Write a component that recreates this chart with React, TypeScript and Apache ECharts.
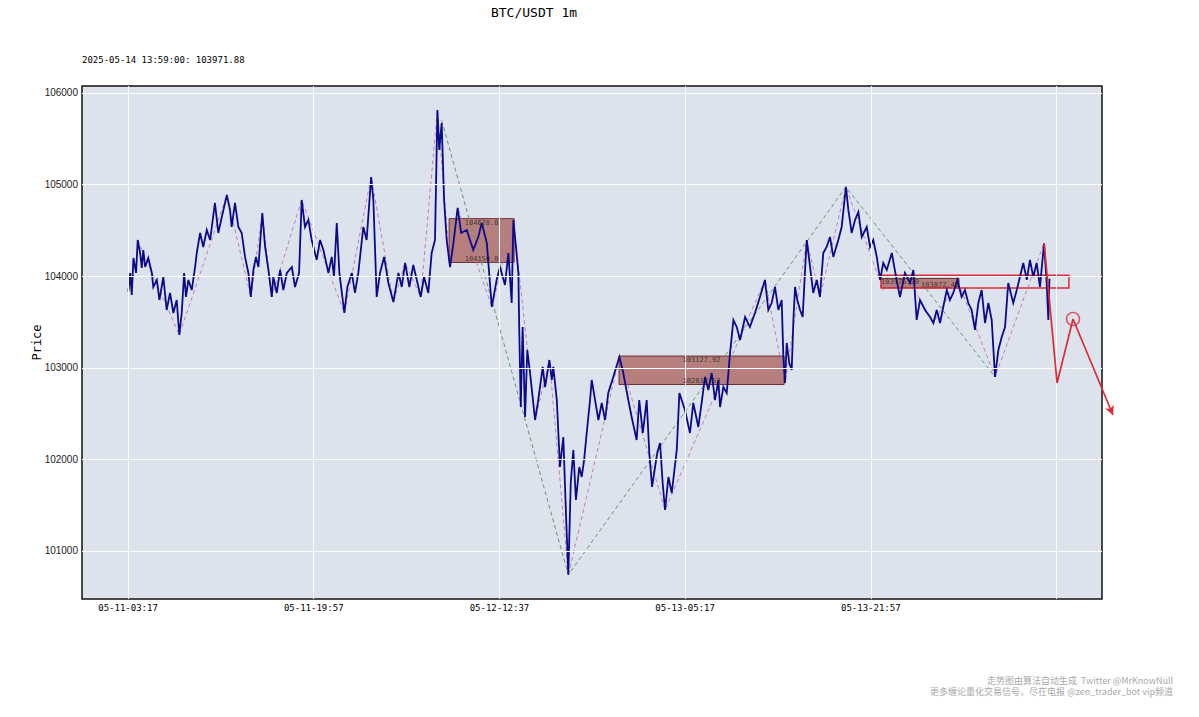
import React, { useEffect, useRef } from "react";
import * as echarts from "echarts";

// ---------- data ----------
const chartTitle = "BTC/USDT 1m";
const lastTime = "2025-05-14 13:59:00";
const lastPrice = 103971.88;

// x = bar index (1-minute bars from 2025-05-11 03:17)
const xTickValues = [0, 1000, 2000, 3000, 4000];
const xTickLabels = ["05-11-03:17", "05-11-19:57", "05-12-12:37", "05-13-05:17", "05-13-21:57"];
const xGridValues = [0, 1000, 2000, 3000, 4000, 5000];
const yTickValues = [101000, 102000, 103000, 104000, 105000, 106000];

const price: [number, number][] = [
  [2, 103831], [11, 104035], [20, 103795], [29, 104199], [43, 104035], [52, 104395], [65, 104253], [74, 104090],
  [82, 104286], [92, 104100], [109, 104199], [128, 104035], [136, 103882], [155, 103959], [169, 103740], [190, 103991],
  [208, 103631], [226, 103817], [244, 103598], [262, 103740], [276, 103358], [289, 103598], [302, 104035], [312, 103773],
  [325, 103959], [343, 103849], [361, 104100], [370, 104253], [388, 104472], [405, 104319], [424, 104504], [442, 104395],
  [468, 104799], [486, 104472], [505, 104646], [532, 104887], [549, 104723], [558, 104537], [576, 104799], [594, 104537],
  [612, 104472], [630, 104210], [648, 104035], [661, 103773], [675, 104068], [689, 104210], [702, 104100], [723, 104690],
  [738, 104319], [756, 104068], [774, 103773], [782, 103991], [801, 103817], [819, 104068], [836, 103849], [855, 104035],
  [882, 104100], [899, 103882], [921, 104035], [935, 104832], [953, 104537], [971, 104614], [989, 104395], [1016, 104177],
  [1034, 104395], [1052, 104286], [1079, 104035], [1097, 104210], [1109, 103991], [1124, 104581], [1138, 104035], [1165, 103598],
  [1181, 103882], [1205, 104035], [1222, 103817], [1240, 104035], [1267, 104537], [1285, 104395], [1309, 105083], [1321, 104832],
  [1339, 103773], [1357, 104035], [1379, 104210], [1402, 103926], [1429, 103718], [1456, 104035], [1474, 103882], [1492, 104144],
  [1515, 103882], [1536, 104122], [1555, 103959], [1576, 103773], [1594, 103991], [1617, 103817], [1635, 104253], [1653, 104395],
  [1666, 105814], [1676, 105378], [1689, 105672], [1702, 104832], [1716, 104395], [1734, 104100], [1752, 104362], [1775, 104745],
  [1794, 104472], [1824, 104504], [1859, 104286], [1886, 104428], [1905, 104581], [1932, 104362], [1959, 103664], [1985, 103959],
  [2003, 104100], [2030, 103904], [2048, 104253], [2066, 103707], [2075, 104614], [2089, 104319], [2102, 104035], [2107, 103380],
  [2115, 102572], [2125, 103445], [2138, 102463], [2150, 103194], [2165, 102943], [2192, 102430], [2209, 102648], [2233, 103009],
  [2246, 102790], [2269, 103085], [2282, 102867], [2290, 103009], [2309, 102648], [2326, 101917], [2344, 102244], [2359, 101371],
  [2371, 100740], [2384, 101742], [2398, 102103], [2412, 101557], [2430, 101917], [2443, 101808], [2456, 101993], [2470, 102288],
  [2488, 102648], [2497, 102867], [2515, 102648], [2533, 102430], [2551, 102616], [2569, 102430], [2586, 102725], [2613, 102900],
  [2646, 103118], [2667, 102943], [2694, 102648], [2712, 102463], [2739, 102212], [2753, 102648], [2772, 102288], [2793, 102648],
  [2807, 102070], [2822, 101699], [2838, 101917], [2850, 102070], [2865, 102179], [2879, 101742], [2892, 101448], [2910, 101808],
  [2928, 101633], [2955, 102103], [2969, 102725], [2999, 102539], [3026, 102288], [3044, 102616], [3071, 102354], [3089, 102616],
  [3107, 102900], [3125, 102758], [3143, 102943], [3161, 102648], [3179, 102867], [3188, 102572], [3206, 102790], [3224, 102725],
  [3242, 103162], [3260, 103522], [3278, 103445], [3296, 103303], [3323, 103555], [3349, 103445], [3376, 103598], [3403, 103773],
  [3430, 103959], [3448, 103631], [3466, 103707], [3484, 103882], [3502, 103631], [3520, 103740], [3529, 103118], [3538, 102834],
  [3547, 103271], [3561, 103052], [3574, 102976], [3583, 103522], [3592, 103882], [3604, 103740], [3619, 103631], [3633, 103555],
  [3646, 104068], [3655, 104395], [3673, 104100], [3690, 103817], [3709, 103959], [3726, 103773], [3744, 104253], [3762, 104319],
  [3780, 104428], [3798, 104210], [3825, 104395], [3843, 104537], [3866, 104974], [3879, 104723], [3897, 104472], [3915, 104614],
  [3933, 104701], [3951, 104428], [3978, 104537], [3996, 104319], [4013, 104395], [4032, 104210], [4050, 103959], [4067, 104144],
  [4086, 104068], [4113, 104253], [4139, 103959], [4157, 103773], [4184, 104035], [4211, 103926], [4229, 104068], [4247, 103522],
  [4265, 103740], [4292, 103631], [4319, 103555], [4337, 103489], [4355, 103631], [4373, 103489], [4390, 103664], [4409, 103849],
  [4426, 103740], [4444, 103817], [4466, 103959], [4489, 103773], [4507, 103849], [4525, 103707], [4543, 103631], [4561, 103413],
  [4579, 103707], [4597, 103849], [4615, 103489], [4633, 103707], [4651, 103522], [4669, 102900], [4687, 103194], [4705, 103336],
  [4723, 103445], [4740, 103926], [4767, 103707], [4786, 103849], [4803, 103991], [4821, 104144], [4840, 103959], [4857, 104177],
  [4875, 103991], [4893, 104144], [4911, 103882], [4933, 104362], [4947, 103926], [4956, 103522], [4962, 103971.88],
];

// stroke (bi) pivots
const biPoints: [number, number][] = [
  [52, 104395], [276, 103358], [532, 104887], [661, 103773], [723, 104690], [774, 103773], [935, 104832], [1165, 103598],
  [1309, 105083], [1429, 103718], [1492, 104144], [1576, 103773], [1666, 105814], [1734, 104100], [1775, 104745], [1959, 103664],
  [2075, 104614], [2192, 102430], [2269, 103085], [2371, 100740], [2646, 103118], [2892, 101448], [3430, 103959], [3538, 102834],
  [3655, 104395], [3726, 103773], [3866, 104974], [4067, 103849], [4184, 104035], [4337, 103489], [4466, 103959], [4669, 102900],
  [4933, 104362],
];

// segment pivots
const segPoints: [number, number][] = [
  [1689, 105700], [2371, 100740], [3866, 104974], [4669, 102900],
];

// pivot zones: start idx, end idx, low, high
const zoneStart = [1729, 2644, 4055];
const zoneEnd = [2079, 3533, 4475];
const zoneLow = [104150.0, 102817.53, 103872.4];
const zoneHigh = [104628.0, 103127.92, 103975.2];

// projected path
const projection: [number, number][] = [[4933, 104362], [5003, 102834], [5089, 103533]];
const projectionTarget: [number, number] = [5304, 102485];
const watchStart = 4055;
const watchEnd = 5067;
const watchLow = 103870;
const watchHigh = 104010;

const watermark1 = "走势图由算法自动生成  Twitter @MrKnowNull";
const watermark2 = "更多缠论量化交易信号，尽在电报 @zen_trader_bot vip频道";

// axis ranges
const X_MIN = -248;
const X_MAX = 5245;
const Y_MIN = 100476;
const Y_MAX = 106076;

const RED = "#dd2a35";
const MONO = "'DejaVu Sans Mono', monospace";

export default function App() {
  const ref = useRef<HTMLDivElement>(null);

  useEffect(() => {
    if (!ref.current) return;
    const chart = echarts.init(ref.current, undefined, { renderer: "svg" });

    const zoneAreas = zoneStart.map((s, i) => [
      { coord: [s, zoneLow[i]] },
      { coord: [zoneEnd[i], zoneHigh[i]] },
    ]);
    const fmt = (v: number) => v.toFixed(v % 1 === 0 ? 1 : 2);
    const zoneLabels: any[] = [];
    zoneStart.forEach((s, i) => {
      const mid = (s + zoneEnd[i]) / 2;
      const narrow = i === 2;
      zoneLabels.push({ value: [mid, zoneHigh[i]], name: fmt(zoneHigh[i]), label: { offset: [narrow ? -20 : 0, 4] } });
      zoneLabels.push({ value: [mid, zoneLow[i]], name: fmt(zoneLow[i]), label: { offset: [narrow ? 20 : 0, -3] } });
    });

    const turnPoint = projection[projection.length - 1];

    const buildOption = (legPixels: any[]) => ({
      animation: false,
      backgroundColor: "#ffffff",
      grid: {
        left: 82,
        top: 86,
        width: 1020,
        height: 513,
        show: true,
        backgroundColor: "#dde3ed",
        borderColor: "#111111",
        borderWidth: 1.5,
      },
      xAxis: {
        type: "value",
        min: X_MIN,
        max: X_MAX,
        axisLine: { show: false },
        axisTick: { show: false },
        splitLine: { show: false },
        axisLabel: {
          customValues: xTickValues,
          formatter: (v: number) => {
            const i = xTickValues.indexOf(v);
            return i >= 0 ? xTickLabels[i] : "";
          },
          fontFamily: MONO,
          fontSize: 9,
          color: "#000",
          margin: 4,
        },
      },
      yAxis: {
        type: "value",
        min: Y_MIN,
        max: Y_MAX,
        name: "Price",
        nameLocation: "middle",
        nameGap: 39,
        nameMoveOverlap: false,
        nameRotate: 90,
        nameTextStyle: { fontFamily: MONO, fontSize: 12, color: "#000" },
        axisLine: { show: false },
        axisTick: { show: false },
        splitLine: { show: false },
        axisLabel: {
          customValues: yTickValues,
          formatter: (v: number) => String(v),
          fontFamily: "'Liberation Sans', Arial, sans-serif",
          fontSize: 10,
          color: "#222",
          margin: 4,
        },
      },
      graphic: [
        {
          type: "text",
          x: 534,
          y: 12,
          style: { text: chartTitle, font: `13px ${MONO}`, fill: "#000", align: "center", verticalAlign: "middle" },
        },
        {
          type: "text",
          x: 82,
          y: 60,
          style: { text: `${lastTime}: ${lastPrice}`, font: `9px ${MONO}`, fill: "#000", align: "left", verticalAlign: "middle" },
        },
        {
          type: "text",
          x: 1173,
          y: 680,
          style: { text: watermark1, font: "9px 'Noto Sans CJK SC', sans-serif", fill: "#a8a8a8", align: "right", verticalAlign: "middle" },
        },
        {
          type: "text",
          x: 1173,
          y: 691,
          style: { text: watermark2, font: "9px 'Noto Sans CJK SC', sans-serif", fill: "#a8a8a8", align: "right", verticalAlign: "middle" },
        },
      ],
      series: [
        {
          name: "grid",
          type: "line",
          data: [],
          z: 1,
          silent: true,
          markLine: {
            silent: true,
            symbol: "none",
            label: { show: false },
            lineStyle: { color: "#ffffff", width: 1, type: "solid" },
            data: [
              ...xGridValues.map((v) => ({ xAxis: v })),
              ...yTickValues.map((v) => ({ yAxis: v })),
            ],
          },
        },
        {
          name: "zones",
          type: "line",
          data: [],
          z: 2,
          silent: true,
          markArea: {
            silent: true,
            itemStyle: { color: "rgba(150,45,35,0.55)", borderColor: "#6a3030", borderWidth: 1 },
            data: zoneAreas,
          },
        },
        {
          name: "segment",
          type: "line",
          data: segPoints,
          z: 3,
          symbol: "none",
          silent: true,
          lineStyle: { color: "#5e9a68", width: 1, type: [4, 3] },
        },
        {
          name: "bi",
          type: "line",
          data: biPoints,
          z: 3,
          symbol: "none",
          silent: true,
          lineStyle: { color: "#c070b0", width: 0.9, type: [4, 3] },
        },
        {
          name: "price",
          type: "line",
          data: price,
          z: 4,
          symbol: "none",
          silent: true,
          lineStyle: { color: "#0b0b8a", width: 1.8, join: "miter" },
        },
        {
          name: "zoneLabels",
          type: "scatter",
          data: zoneLabels,
          z: 6,
          symbolSize: 0,
          silent: true,
          label: {
            show: true,
            position: "inside",
            formatter: "{b}",
            fontFamily: MONO,
            fontSize: 7,
            color: "#222",
          },
        },
        {
          name: "projection",
          type: "line",
          data: projection,
          z: 5,
          symbol: "none",
          clip: false,
          silent: true,
          lineStyle: { color: RED, width: 1.7 },
          markArea: {
            silent: true,
            itemStyle: { color: "rgba(0,0,0,0)", borderColor: RED, borderWidth: 1.5 },
            data: [[{ coord: [watchStart, watchLow] }, { coord: [watchEnd, watchHigh] }]],
          },
        },
        {
          name: "turn",
          type: "scatter",
          data: [turnPoint],
          z: 6,
          symbol: "circle",
          symbolSize: 13,
          clip: false,
          silent: true,
          itemStyle: { color: "rgba(0,0,0,0)", borderColor: RED, borderWidth: 1.4 },
        },
        {
          name: "arrowLeg",
          type: "line",
          data: [],
          z: 5,
          clip: false,
          silent: true,
          markLine: {
            silent: true,
            symbol: ["none", "arrow"],
            symbolSize: [7, 9],
            label: { show: false },
            lineStyle: { color: RED, width: 1.7, type: "solid" },
            data: legPixels,
          },
        },
      ],
    });

    chart.setOption(buildOption([]));

    // the last projected leg runs past the plot edge: place it through the axes' own pixel mapping
    const p0 = chart.convertToPixel({ gridIndex: 0 }, turnPoint) as number[];
    const p1 = chart.convertToPixel({ gridIndex: 0 }, projectionTarget) as number[];
    if (p0 && p1) {
      chart.setOption(buildOption([[{ x: p0[0], y: p0[1] }, { x: p1[0], y: p1[1] }]]), true);
    }

    return () => chart.dispose();
  }, []);

  return (
    <div
      ref={ref}
      style={{ position: "fixed", left: 0, top: 0, width: 1199, height: 717, background: "#fff" }}
    />
  );
}
